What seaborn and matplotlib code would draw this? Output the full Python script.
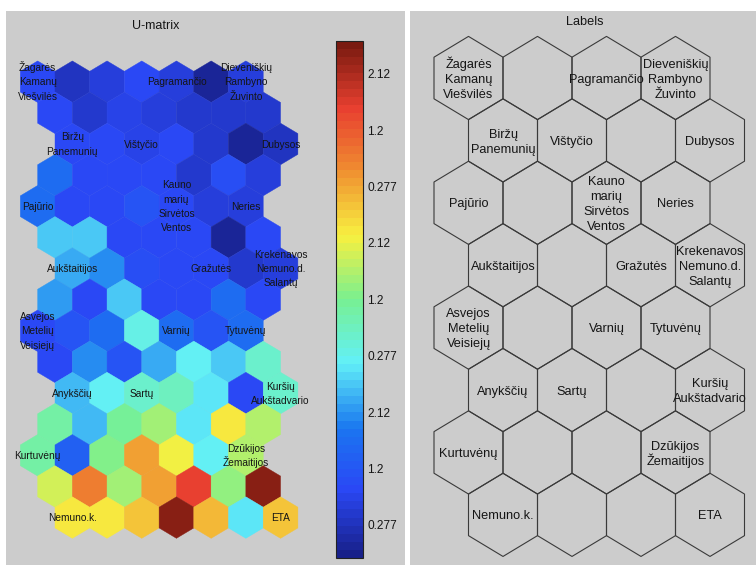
import numpy as np
import matplotlib
matplotlib.use("Agg")
import matplotlib.pyplot as plt
import seaborn as sns
from matplotlib.patches import RegularPolygon
from matplotlib.collections import PatchCollection
from matplotlib.colors import ListedColormap, Normalize
from matplotlib.cm import ScalarMappable

# ---------------- data ----------------
# U-matrix (15 rows x 7 columns), values normalised to the colour scale 0..1
umatrix = [
    [0.13, 0.07, 0.10, 0.13, 0.10, 0.03, 0.10],
    [0.13, 0.08, 0.12, 0.10, 0.08, 0.08, 0.09],
    [0.13, 0.14, 0.11, 0.13, 0.09, 0.02, 0.07],
    [0.22, 0.14, 0.14, 0.13, 0.08, 0.15, 0.10],
    [0.22, 0.13, 0.14, 0.16, 0.14, 0.10, 0.10],
    [0.33, 0.34, 0.14, 0.14, 0.13, 0.03, 0.13],
    [0.30, 0.28, 0.15, 0.14, 0.14, 0.08, 0.10],
    [0.29, 0.14, 0.34, 0.14, 0.14, 0.23, 0.14],
    [0.14, 0.16, 0.23, 0.40, 0.23, 0.16, 0.22],
    [0.14, 0.27, 0.16, 0.31, 0.38, 0.33, 0.43],
    [0.32, 0.38, 0.43, 0.45, 0.37, 0.14, 0.43],
    [0.48, 0.32, 0.49, 0.54, 0.36, 0.63, 0.56],
    [0.48, 0.19, 0.51, 0.73, 0.62, 0.38, 0.55],
    [0.58, 0.77, 0.54, 0.73, 0.86, 0.53, 0.98],
    [0.63, 0.63, 0.68, 0.98, 0.70, 0.37, 0.68],
]

# map-unit labels (8 rows x 4 columns)
unit_labels = [
    ["Žagarės\nKamanų\nViešvilės", "", "Pagramančio", "Dieveniškių\nRambyno\nŽuvinto"],
    ["Biržų\nPanemunių", "Vištyčio", "", "Dubysos"],
    ["Pajūrio", "", "Kauno\nmarių\nSirvėtos\nVentos", "Neries"],
    ["Aukštaitijos", "", "Gražutės", "Krekenavos\nNemuno.d.\nSalantų"],
    ["Asvejos\nMetelių\nVeisiejų", "", "Varnių", "Tytuvėnų"],
    ["Anykščių", "Sartų", "", "Kuršių\nAukštadvario"],
    ["Kurtuvėnų", "", "", "Dzūkijos\nŽemaitijos"],
    ["Nemuno.k.", "", "", "ETA"],
]

cbar_tick_pos = [0.064, 0.173, 0.282, 0.391, 0.500, 0.609, 0.718, 0.827, 0.936]
cbar_tick_labels = ["0.277", "1.2", "2.12", "0.277", "1.2", "2.12", "0.277", "1.2", "2.12"]

title_umat = "U-matrix"
title_labels = "Labels"

# ---------------- style ----------------
sns.set_theme(style="white")
plt.rcParams["font.family"] = ["Liberation Sans", "DejaVu Sans"]

jet_anchors = ["#18208a", "#2a48f5", "#1a78f0", "#62f0f8", "#78f090",
               "#f8f040", "#f09030", "#e84030", "#7a1a10"]
cmap = ListedColormap(sns.blend_palette(jet_anchors, n_colors=64))
norm = Normalize(vmin=0.0, vmax=1.0)

W, H = 756, 565
fig = plt.figure(figsize=(W / 100, H / 100), dpi=100, facecolor="white")

PANEL = "#cccccc"
TXT = "#151515"


def px_rect(x0, y0, x1, y1):
    return [x0 / W, 1 - y1 / H, (x1 - x0) / W, (y1 - y0) / H]


# gray panels (background axes)
for x0, x1 in [(6, 405), (410, 756)]:
    bg = fig.add_axes(px_rect(x0, 11, x1, 565), zorder=-5)
    bg.set_facecolor(PANEL)
    bg.set_xticks([])
    bg.set_yticks([])
    for s in bg.spines.values():
        s.set_visible(False)

ROW_DY = np.sqrt(3) / 2  # vertical spacing of map rows (data units)


def data_axes(x0px, sx, y0px, sy, xlim, ylim):
    rect = px_rect(x0px + sx * xlim[0], y0px + sy * ylim[0],
                   x0px + sx * xlim[1], y0px + sy * ylim[1])
    ax = fig.add_axes(rect, zorder=1)
    ax.set_xlim(*xlim)
    ax.set_ylim(ylim[1], ylim[0])
    ax.set_axis_off()
    ax.patch.set_alpha(0)
    return ax


def put_label(ax, x, y, text, fs_pt, line_pt):
    lines = text.split("\n")
    n = len(lines)
    for k, line in enumerate(lines):
        off = -((k - (n - 1) / 2) * line_pt + 0.36 * fs_pt)
        ax.annotate(line, xy=(x, y), xytext=(0, off), textcoords="offset points",
                    ha="center", va="baseline", fontsize=fs_pt, color=TXT,
                    annotation_clip=False, zorder=5)


# ---------------- U-matrix ----------------
ax_u = data_axes(37.65, 69.4, 81.7, 71.9, (-0.5, 4.0), (-0.5, 6.6))
u = np.array(umatrix)
row_off = [0.0, 0.25, 0.5, 0.25]
patches, vals = [], []
for r in range(u.shape[0]):
    for c in range(u.shape[1]):
        cx = 0.5 * c + row_off[r % 4]
        cy = r * ROW_DY / 2
        patches.append(RegularPolygon((cx, cy), numVertices=6,
                                      radius=0.25 / np.cos(np.pi / 6)))
        vals.append(u[r, c])
pc = PatchCollection(patches, cmap=cmap, norm=norm, edgecolor="face", linewidth=0.3)
pc.set_array(np.array(vals))
ax_u.add_collection(pc)

for i, row in enumerate(unit_labels):
    for j, lab in enumerate(row):
        if lab:
            put_label(ax_u, j + 0.5 * (i % 2), i * ROW_DY, lab, 7.3, 10.3)

fig.text(156 / W, 1 - 26 / H, title_umat, ha="center", va="center",
         fontsize=9, color=TXT, zorder=5)

# colorbar
cax = fig.add_axes(px_rect(335.5, 40.5, 363, 558), zorder=1)
cb = fig.colorbar(ScalarMappable(norm=norm, cmap=cmap), cax=cax)
cb.set_ticks(cbar_tick_pos)
cb.set_ticklabels(cbar_tick_labels)
cb.outline.set_edgecolor("#222222")
cb.outline.set_linewidth(0.8)
cax.tick_params(axis="y", direction="in", length=4, width=0.8, color="#222222",
                left=True, right=True, labelsize=8.6, labelcolor=TXT, pad=3)

# ---------------- Labels ----------------
ax_l = data_axes(468.5, 69.0, 78.0, 72.06, (-0.6, 4.05), (-0.6, 6.75))
hexes = []
for i, row in enumerate(unit_labels):
    for j, lab in enumerate(row):
        cx = j + 0.5 * (i % 2)
        cy = i * ROW_DY
        hexes.append(RegularPolygon((cx, cy), numVertices=6,
                                    radius=0.5 / np.cos(np.pi / 6)))
        if lab:
            put_label(ax_l, cx, cy, lab, 9.2, 10.8)
ax_l.add_collection(PatchCollection(hexes, facecolor="none", edgecolor="#3a3a3a",
                                    linewidth=0.8))

fig.text(585 / W, 1 - 22 / H, title_labels, ha="center", va="center",
         fontsize=9.2, color=TXT, zorder=5)

fig.savefig("out.png", dpi=100, facecolor="white")
